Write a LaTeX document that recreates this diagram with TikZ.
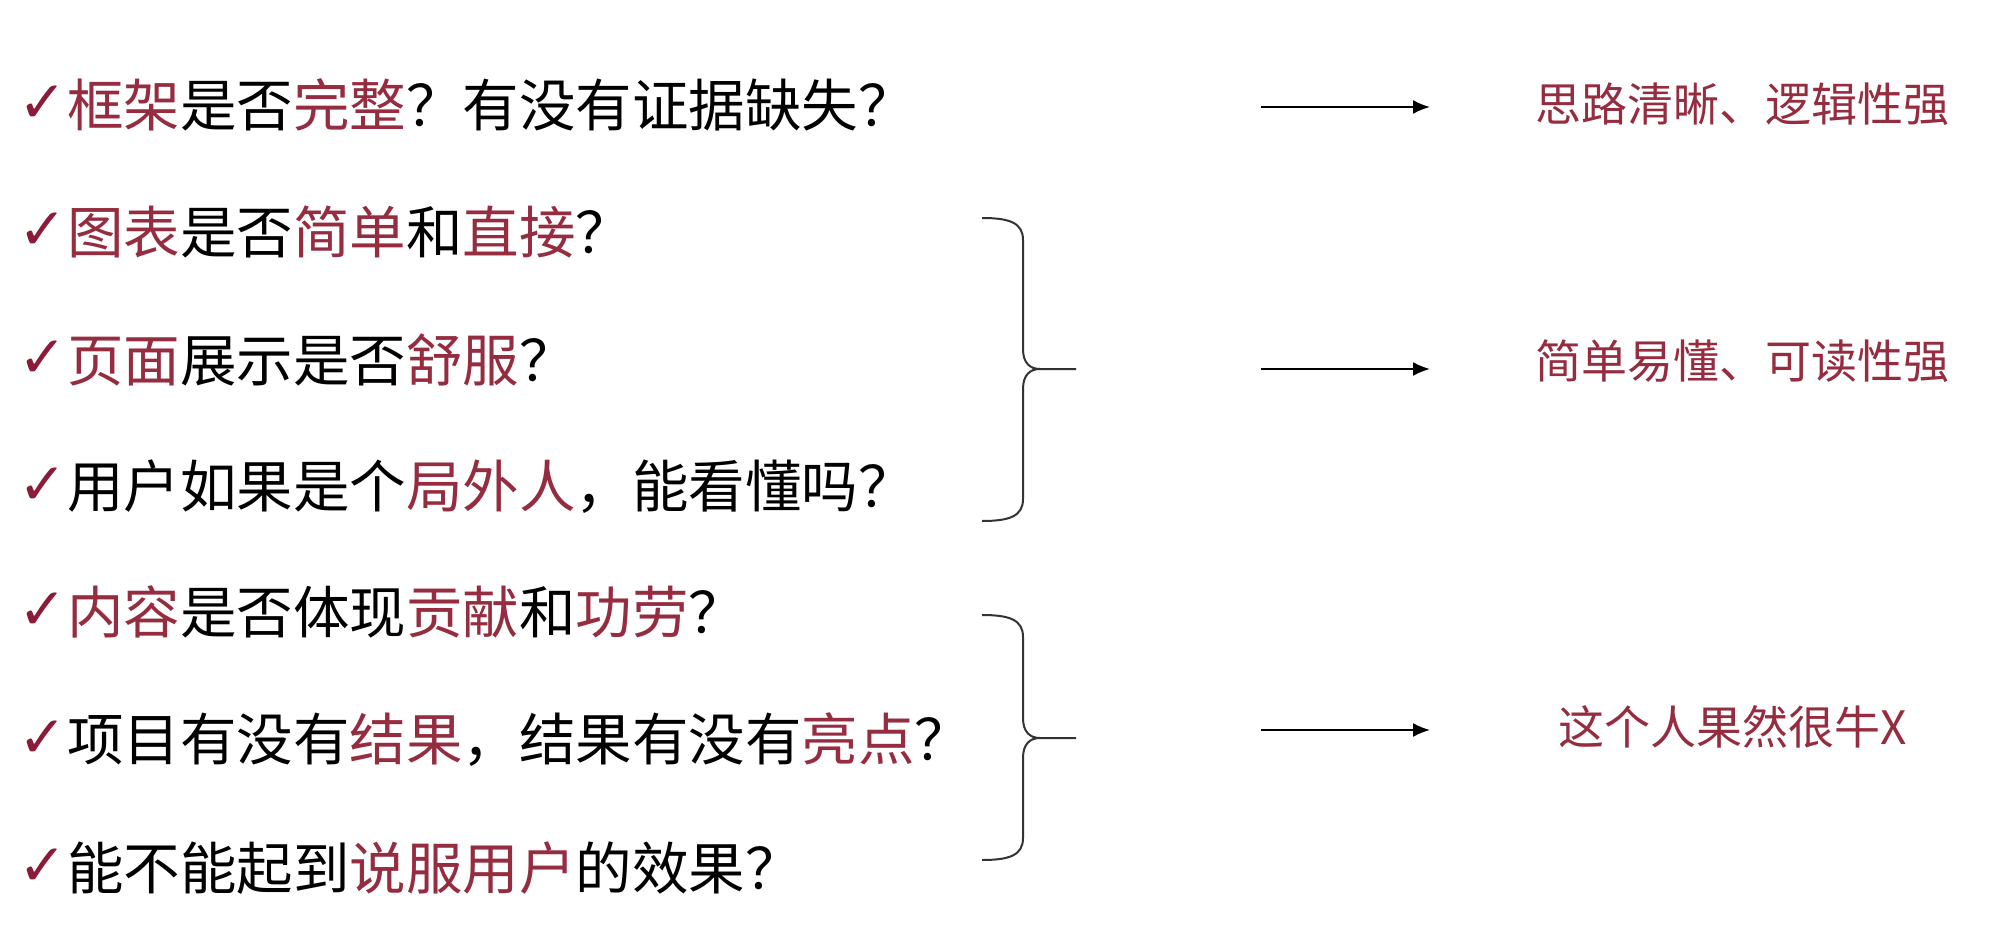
\documentclass[tikz,border=0pt]{standalone}
\usepackage{fontspec}
\usetikzlibrary{arrows.meta}
\newfontfamily\cjk{Noto Sans CJK SC}
\newfontfamily\symfont{DejaVu Sans}
\definecolor{rd}{HTML}{962C40}
\definecolor{ck}{HTML}{8A1C3A}
\definecolor{brcol}{HTML}{333333}
\newcommand\R[1]{\textcolor{rd}{#1}}
\newcommand\rbrc[3]{%
  \draw[brc] (982,#1) .. controls (1010,#1) and (1023,#1+5) .. (1023,#1+22)
    -- (1023,#2-20) .. controls (1023,#2-6) and (1030,#2) .. (1040,#2) -- (1076,#2);
  \draw[brc] (1040,#2) .. controls (1030,#2) and (1023,#2+6) .. (1023,#2+20)
    -- (1023,#3-22) .. controls (1023,#3-5) and (1010,#3) .. (982,#3);
}
\begin{document}
\begin{tikzpicture}[x=1pt,y=-1pt,
 q/.style={anchor=west,inner sep=0pt,font=\cjk\fontsize{56.5}{62}\selectfont,text=black},
 tick/.style={inner sep=0pt,font=\symfont\fontsize{58}{62}\selectfont,text=ck},
 res/.style={anchor=west,inner sep=0pt,font=\cjk\fontsize{46}{50}\selectfont,text=rd},
 arr/.style={line width=2pt,draw=black,-{Latex[length=17pt,width=14pt]}},
 brc/.style={line width=2pt,draw=brcol}]
\useasboundingbox (0,0) rectangle (1992,944);
\fill[white] (0,0) rectangle (1992,944);

\node[tick] (c1) at (43,104) {✓};
\node[tick] (c2) at (43,231) {✓};
\node[tick] (c3) at (43,359) {✓};
\node[tick] (c4) at (43,486) {✓};
\node[tick] (c5) at (43,611) {✓};
\node[tick] (c6) at (43,739) {✓};
\node[tick] (c7) at (43,867) {✓};

\node[q] (q1) at (67,105) {\R{框架}是否\R{完整}？有没有证据缺失？};
\node[q] (q2) at (67,232) {\R{图表}是否\R{简单}和\R{直接}？};
\node[q] (q3) at (67,360) {\R{页面}展示是否\R{舒服}？};
\node[q] (q4) at (67,487) {用户如果是个\R{局外人}，能看懂吗？};
\node[q] (q5) at (67,612) {\R{内容}是否体现\R{贡献}和\R{功劳}？};
\node[q] (q6) at (67,740) {项目有没有\R{结果}，结果有没有\R{亮点}？};
\node[q] (q7) at (67,868) {能不能起到\R{说服用户}的效果？};

\rbrc{218}{369}{521}
\rbrc{615}{738}{860}

\coordinate (a1s) at (1261,107);
\coordinate (a1e) at (1430,107);
\coordinate (a2s) at (1261,369);
\coordinate (a2e) at (1430,369);
\coordinate (a3s) at (1261,730);
\coordinate (a3e) at (1430,730);
\draw[arr] (a1s) -- (a1e);
\draw[arr] (a2s) -- (a2e);
\draw[arr] (a3s) -- (a3e);

\node[res] (r1) at (1535,104) {思路清晰、逻辑性强};
\node[res] (r2) at (1535,361) {简单易懂、可读性强};
\node[res] (r3) at (1558,727) {这个人果然很牛X};
\end{tikzpicture}
\end{document}
